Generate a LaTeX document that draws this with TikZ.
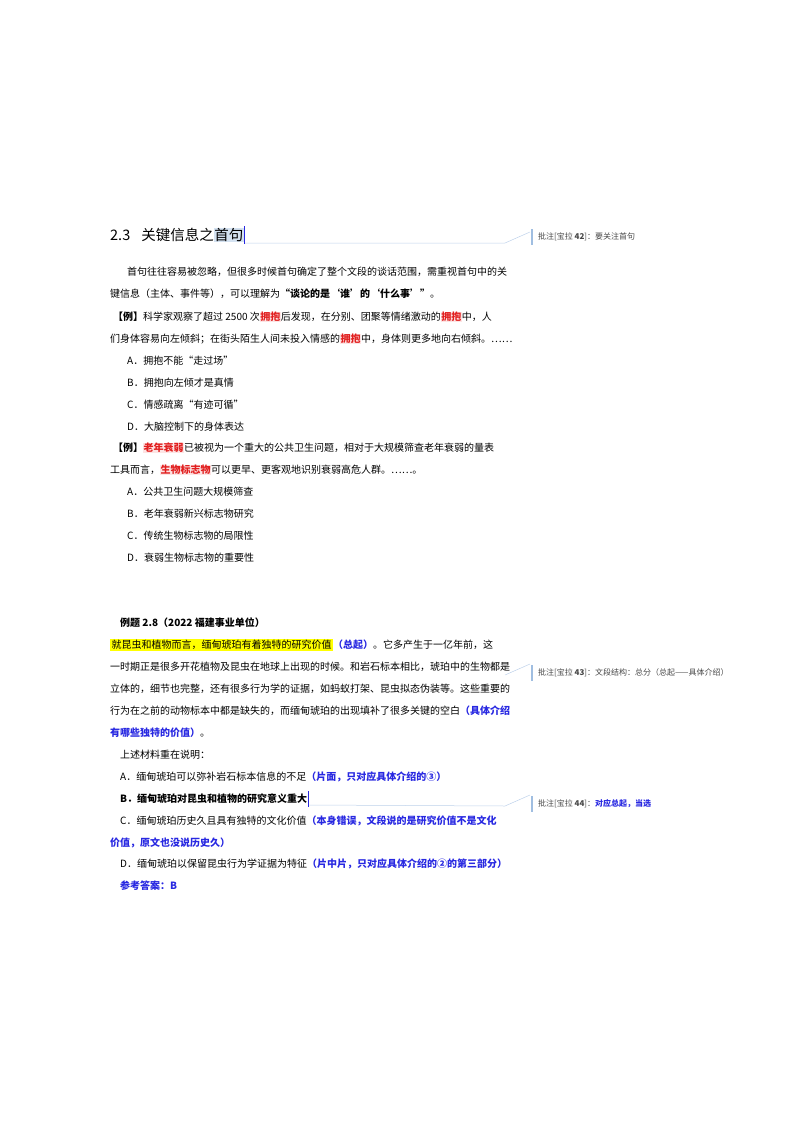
\documentclass[tikz,border=0pt]{standalone}
\usepackage{fontspec}
\setmainfont{Noto Sans CJK SC}
\definecolor{hl}{RGB}{225,30,30}
\definecolor{pk}{RGB}{253,228,228}
\definecolor{bl}{RGB}{40,40,225}
\definecolor{yl}{RGB}{255,255,0}
\definecolor{lb}{RGB}{160,190,225}
\definecolor{cm}{RGB}{70,70,70}
\newcommand{\hug}[1]{{\setlength{\fboxsep}{0.5pt}\colorbox{pk}{\textcolor{hl}{\textbf{#1}}}}}
\newcommand{\bb}[1]{\textcolor{bl}{\textbf{#1}}}
\begin{document}
\begin{tikzpicture}[x=1pt,y=-1pt,
  ln/.style={anchor=west,inner sep=0pt,font=\fontsize{10}{12}\selectfont},
  cmt/.style={anchor=west,inner sep=0pt,font=\fontsize{8}{9}\selectfont,text=cm},
  lead/.style={draw=lb!70,line width=0.5pt},
  bar/.style={draw=lb,line width=1.2pt}]
\useasboundingbox (0,0) rectangle (800,1132);
% title
\node[anchor=west,inner sep=0pt,font=\fontsize{14.5}{16}\selectfont] (title) at (110,235)
  {2.3\hspace{11pt}关键信息之{\setlength{\fboxsep}{0.5pt}\colorbox{lb!45}{首句}}};
\draw[bl,line width=0.6pt] (title.east) ++(0,-9) -- ++(0,18);
\coordinate (t1) at (505,243);
\coordinate (t2) at (530,232);
\draw[lead] (title.east) ++(1,8) -- (t1) -- (t2);
\draw[bar] (532,229) -- (532,245);
\node[cmt] (c42) at (538,237) {批注[宝拉 \textbf{42}]：要关注首句};
% paragraph
\node[ln] (p1) at (127,272) {首句往往容易被忽略，但很多时候首句确定了整个文段的谈话范围，需重视首句中的关};
\node[ln] (p2) at (110,294) {键信息（主体、事件等），可以理解为\textbf{“谈论的是‘谁’的‘什么事’”}。};
\node[ln] (e1) at (113,317) {\textbf{【例】}科学家观察了超过 2500 次\hug{拥抱}后发现，在分别、团聚等情绪激动的\hug{拥抱}中，人};
\node[ln] (e2) at (110,339) {们身体容易向左倾斜；在街头陌生人间未投入情感的\hug{拥抱}中，身体则更多地向右倾斜。……};
\node[ln] (oa) at (127,361) {A．拥抱不能“走过场”};
\node[ln] (ob) at (127,383) {B．拥抱向左倾才是真情};
\node[ln] (oc) at (127,405) {C．情感疏离“有迹可循”};
\node[ln] (od) at (127,427) {D．大脑控制下的身体表达};
\node[ln] (f1) at (113,448) {\textbf{【例】}\hug{老年衰弱}已被视为一个重大的公共卫生问题，相对于大规模筛查老年衰弱的量表};
\node[ln] (f2) at (110,470) {工具而言，\hug{生物标志物}可以更早、更客观地识别衰弱高危人群。……。};
\node[ln] (qa) at (127,492) {A．公共卫生问题大规模筛查};
\node[ln] (qb) at (127,514) {B．老年衰弱新兴标志物研究};
\node[ln] (qc) at (127,536) {C．传统生物标志物的局限性};
\node[ln] (qd) at (127,558) {D．衰弱生物标志物的重要性};
% example 2.8
\node[ln] (h) at (120,623) {\textbf{例题 2.8（2022 福建事业单位）}};
\node[ln] (g1) at (110,645) {{\setlength{\fboxsep}{1.5pt}\colorbox{yl}{就昆虫和植物而言，缅甸琥珀有着独特的研究价值}}\bb{（总起）}。它多产生于一亿年前，这};
\node[ln] (g2) at (110,667) {一时期正是很多开花植物及昆虫在地球上出现的时候。和岩石标本相比，琥珀中的生物都是};
\node[ln] (g3) at (110,689) {立体的，细节也完整，还有很多行为学的证据，如蚂蚁打架、昆虫拟态伪装等。这些重要的};
\node[ln] (g4) at (110,711) {行为在之前的动物标本中都是缺失的，而缅甸琥珀的出现填补了很多关键的空白\bb{（具体介绍}};
\node[ln] (g5) at (110,733) {\bb{有哪些独特的价值）}。};
\node[ln] (s) at (120,755) {上述材料重在说明：};
\node[ln] (ra) at (120,777) {A．缅甸琥珀可以弥补岩石标本信息的不足\bb{（片面，只对应具体介绍的③）}};
\node[ln] (rb) at (120,799) {\textbf{B．缅甸琥珀对昆虫和植物的研究意义重大}};
\node[ln] (rc) at (120,821) {C．缅甸琥珀历史久且具有独特的文化价值\bb{（本身错误，文段说的是研究价值不是文化}};
\node[ln] (rc2) at (110,843) {\bb{价值，原文也没说历史久）}};
\node[ln] (rd) at (120,864) {D．缅甸琥珀以保留昆虫行为学证据为特征\bb{（片中片，只对应具体介绍的②的第三部分）}};
\node[ln] (ans) at (120,886) {\bb{参考答案：B}};
\draw[bl,line width=0.6pt] (rb.east) ++(1,-8) -- ++(0,16);
% comments 43, 44
\coordinate (u1) at (505,675);
\coordinate (u2) at (530,664);
\draw[lead] (u1) -- (u2);
\draw[bar] (532,665) -- (532,681);
\node[cmt] (c43) at (538,673) {批注[宝拉 \textbf{43}]：文段结构：总分（总起——具体介绍）};
\coordinate (v1) at (505,806);
\coordinate (v2) at (530,795);
\draw[lead] (rb.east) ++(2,6) -- (v1) -- (v2);
\draw[bar] (532,796) -- (532,812);
\node[cmt] (c44) at (538,804) {批注[宝拉 \textbf{44}]：\textcolor{bl}{\textbf{对应总起，当选}}};
\end{tikzpicture}
\end{document}
